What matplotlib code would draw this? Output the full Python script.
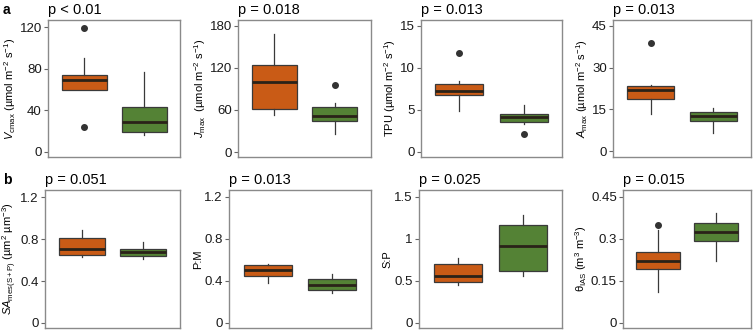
import matplotlib
matplotlib.use("Agg")
import matplotlib.pyplot as plt

plt.rcParams['font.family'] = ['Liberation Sans', 'DejaVu Sans']
plt.rcParams['mathtext.fontset'] = 'custom'
plt.rcParams['mathtext.rm'] = 'Liberation Sans'
plt.rcParams['mathtext.it'] = 'Liberation Sans:italic'

# group colours: first box orange, second green
orange = '#C95B16'
green = '#548235'

# panel texts
p_labels = ['p < 0.01', 'p = 0.018', 'p = 0.013', 'p = 0.013',
            'p = 0.051', 'p = 0.013', 'p = 0.025', 'p = 0.015']
y_labels = [r'$V_{\mathrm{cmax}}$ (µmol m$^{-2}$ s$^{-1}$)',
            r'$J_{\mathrm{max}}$  (µmol m$^{-2}$ s$^{-1}$)',
            r'TPU (µmol m$^{-2}$ s$^{-1}$)',
            r'$A_{\mathrm{max}}$ (µmol m$^{-2}$ s$^{-1}$)',
            r'$SA_{\mathrm{mes(S+P)}}$ (µm$^{2}$ µm$^{-3}$)',
            'P:M',
            'S:P',
            r'θ$_{\mathrm{IAS}}$ (m$^{3}$ m$^{-3}$)']
y_ticks = [[0, 40, 80, 120], [0, 60, 120, 180], [0, 5, 10, 15], [0, 15, 30, 45],
           [0, 0.4, 0.8, 1.2], [0, 0.4, 0.8, 1.2], [0, 0.5, 1, 1.5], [0, 0.15, 0.3, 0.45]]
y_ticklabels = [['0', '40', '80', '120'], ['0', '60', '120', '180'], ['0', '5', '10', '15'],
                ['0', '15', '30', '45'], ['0', '0.4', '0.8', '1.2'], ['0', '0.4', '0.8', '1.2'],
                ['0', '0.5', '1', '1.5'], ['0', '0.15', '0.3', '0.45']]
y_lims = [(-5, 127), (-7, 188), (-0.6, 15.7), (-2, 47),
          (-0.048, 1.27), (-0.048, 1.265), (-0.06, 1.58), (-0.018, 0.474)]

# box statistics: [orange, green]
med = [[68.9, 29.0], [99.8, 51.6], [7.3, 4.17], [21.8, 12.5],
       [0.71, 0.675], [0.502, 0.365], [0.557, 0.911], [0.222, 0.323]]
q1 = [[59.8, 18.7], [61.1, 43.9], [6.75, 3.6], [18.7, 10.9],
      [0.652, 0.643], [0.442, 0.317], [0.485, 0.621], [0.193, 0.292]]
q3 = [[74.3, 42.8], [124.6, 64.0], [8.13, 4.52], [23.4, 14.1],
      [0.81, 0.71], [0.547, 0.422], [0.696, 1.162], [0.254, 0.356]]
whislo = [[59.8, 16.0], [52.5, 26.0], [4.84, 3.3], [13.5, 6.6],
          [0.63, 0.608], [0.378, 0.288], [0.45, 0.561], [0.112, 0.222]]
whishi = [[90.0, 77.0], [168.0, 70.0], [8.4, 5.56], [23.9, 15.6],
          [0.885, 0.773], [0.56, 0.464], [0.776, 1.285], [0.332, 0.392]]
fliers = [[[119.4, 23.8], []], [[], [96.0]], [[11.8], [2.1]], [[38.8], []],
          [[], []], [[], []], [[], []], [[0.349], []]]

W, H = 753, 331
# panel boxes in pixels: left, right, top, bottom
panels = [(48, 180, 20, 157), (238, 371, 20, 157), (421, 562, 20, 157), (613, 751, 20, 157),
          (45, 180, 190, 328), (229, 371, 190, 328), (419, 562, 190, 328), (623, 751, 190, 328)]

fig = plt.figure(figsize=(W / 100, H / 100), dpi=100)

for i, (l, r, t, b) in enumerate(panels):
    ax = fig.add_axes([l / W, 1 - b / H, (r - l) / W, (b - t) / H])
    stats = []
    for j in range(2):
        stats.append(dict(med=med[i][j], q1=q1[i][j], q3=q3[i][j],
                          whislo=whislo[i][j], whishi=whishi[i][j], fliers=fliers[i][j]))
    bp = ax.bxp(stats, positions=[1, 2], widths=0.75, patch_artist=True, showcaps=False,
                boxprops=dict(edgecolor='#3a3a3a', linewidth=0.9),
                medianprops=dict(color='#2a2218', linewidth=2.0),
                whiskerprops=dict(color='#3a3a3a', linewidth=0.9),
                flierprops=dict(marker='o', markerfacecolor='#333333', markeredgecolor='#333333',
                                markersize=4))
    for patch, c in zip(bp['boxes'], [orange, green]):
        patch.set_facecolor(c)
    ax.set_xlim(0.4, 2.6)
    ax.set_ylim(*y_lims[i])
    ax.set_xticks([])
    ax.set_yticks(y_ticks[i])
    ax.set_yticklabels(y_ticklabels[i], fontsize=9.5, color='#1a1a1a')
    ax.tick_params(axis='y', length=3, width=0.8, color='#666666', pad=1.5)
    for s in ax.spines.values():
        s.set_color('#8a8a8a')
        s.set_linewidth(1.0)
    ax.set_ylabel(y_labels[i], fontsize=8, labelpad=1)
    ax.set_title(p_labels[i], loc='left', fontsize=10.5, pad=4)

fig.text(3 / W, 1 - 14 / H, 'a', fontsize=10, fontweight='bold')
fig.text(3 / W, 1 - 184 / H, 'b', fontsize=10, fontweight='bold')

fig.savefig('out.png', dpi=100)
